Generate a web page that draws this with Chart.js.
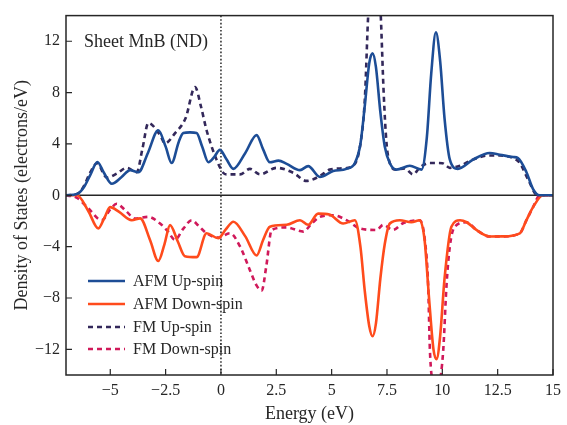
<!DOCTYPE html>
<html>
<head>
<meta charset="utf-8">
<script src="https://cdn.jsdelivr.net/npm/chart.js@4.4.1/dist/chart.umd.min.js"></script>
<style>
    body { margin: 0; background: #fff; }
    #wrap { width: 567px; height: 425px; }
</style>
</head>
<body>
<div id="wrap"><canvas id="dosChart" width="567" height="425"></canvas></div>
<script>
// Energy grid (eV) and DOS values
const afmUpE = [-7, -6.5, -6.2, -5.9, -5.58, -5.3, -4.93, -4.5, -4.1, -3.73, -3.3, -2.83, -2.5, -2.23, -1.9, -1.7, -1.4, -1.1, -0.85, -0.57, -0.3, -0.05, 0.25, 0.56, 1.1, 1.61, 1.9, 2.21, 2.6, 2.97, 3.57, 3.94, 4.47, 5.07, 5.67, 6.05, 6.3, 6.5, 6.7, 6.85, 7.0, 7.2, 7.4, 7.63, 7.93, 8.53, 9.06, 9.3, 9.5, 9.71, 9.9, 10.1, 10.34, 10.7, 11.39, 12.14, 12.6, 13.2, 13.42, 13.8, 14.1, 14.4, 15];
const afmUp = [0, 0.1, 0.6, 1.6, 2.6, 1.8, 0.9, 1.4, 1.96, 1.8, 3.3, 5.07, 3.8, 2.52, 4.2, 4.85, 4.9, 4.85, 3.8, 2.58, 3.0, 3.54, 2.8, 2.06, 3.3, 4.69, 3.6, 2.57, 2.7, 2.45, 1.96, 2.27, 1.43, 1.89, 2.06, 2.52, 4.0, 7.0, 10.3, 11.06, 10.0, 6.5, 3.8, 2.5, 2.0, 2.3, 2.0, 4.5, 9.5, 12.7, 10.5, 6.0, 2.78, 2.06, 2.78, 3.29, 3.16, 2.98, 2.9, 1.8, 0.48, 0, 0];

const afmDownE = [-7, -6.5, -6.0, -5.54, -5.25, -5.01, -4.6, -4.03, -3.65, -3.2, -2.83, -2.55, -2.3, -1.95, -1.63, -1.1, -0.65, -0.12, 0.2, 0.56, 1.1, 1.61, 1.9, 2.21, 2.97, 3.57, 3.94, 4.39, 4.9, 5.52, 6.05, 6.3, 6.5, 6.7, 6.85, 7.0, 7.2, 7.4, 7.63, 8.08, 8.6, 8.98, 9.2, 9.4, 9.6, 9.74, 9.9, 10.1, 10.41, 10.8, 11.1, 11.54, 12.14, 12.75, 13.5, 13.8, 14.1, 14.55, 15];
const afmDown = [0, 0, -1.2, -2.58, -1.7, -0.92, -1.3, -1.94, -1.8, -3.5, -5.12, -3.8, -2.32, -3.6, -4.74, -4.82, -2.96, -3.34, -2.7, -2.06, -3.2, -4.69, -3.5, -2.45, -2.3, -1.94, -2.3, -1.43, -1.5, -2.2, -1.94, -4.0, -7.5, -10.2, -10.98, -10.0, -6.5, -3.8, -2.2, -1.94, -2.1, -1.94, -3.5, -8.0, -12.0, -12.77, -11.0, -6.5, -2.45, -1.94, -2.1, -2.7, -3.21, -3.2, -2.96, -1.94, -0.92, 0, 0];

const fmUpE = [-7, -6.5, -6.2, -5.9, -5.6, -5.16, -4.7, -4.26, -3.8, -3.55, -3.28, -2.75, -2.53, -2.08, -1.6, -1.17, -0.9, -0.65, -0.2, 0.1, 0.26, 0.86, 1.31, 1.76, 2.51, 3.26, 3.87, 4.47, 4.92, 5.5, 5.97, 6.3, 6.5, 6.65, 6.8, 6.95, 7.1, 7.22, 7.35, 7.48, 7.63, 7.9, 8.3, 8.68, 9.0, 9.44, 10.0, 10.34, 10.8, 11.4, 12.1, 12.6, 13.2, 13.5, 13.87, 14.3, 15];
const fmUp = [0, 0.1, 0.7, 1.8, 2.5, 1.38, 1.7, 2.14, 1.8, 3.6, 5.63, 4.69, 4.05, 4.82, 6.0, 8.43, 6.9, 5.07, 2.78, 1.76, 1.63, 1.63, 2.06, 1.63, 2.14, 1.76, 1.12, 1.5, 2.0, 2.1, 2.3, 4.0, 7.5, 14.0, 18.0, 20.0, 18.0, 14.0, 8.0, 4.05, 2.5, 2.0, 2.1, 1.63, 2.2, 2.52, 2.5, 2.14, 2.3, 2.8, 3.1, 3.1, 2.9, 2.52, 1.25, 0, 0];

const fmDownE = [-7, -6.5, -6.0, -5.39, -5.0, -4.71, -4.3, -3.88, -3.28, -2.75, -2.4, -2.08, -1.7, -1.32, -1.0, -0.65, -0.12, 0.41, 0.86, 1.3, 1.6, 1.84, 2.05, 2.29, 2.97, 3.72, 4.1, 4.47, 5.07, 5.67, 6.28, 7.03, 7.33, 7.77, 8.2, 8.6, 8.98, 9.21, 9.36, 9.44, 9.6, 9.72, 9.85, 10.04, 10.19, 10.34, 10.56, 11.1, 11.54, 12.14, 12.75, 13.5, 13.8, 14.1, 14.4, 15];
const fmDown = [0, -0.2, -1.0, -1.94, -1.1, -0.66, -1.2, -1.81, -1.68, -2.2, -2.8, -3.47, -2.6, -1.94, -2.4, -2.96, -3.3, -2.96, -3.98, -5.8, -7.0, -7.42, -5.5, -2.7, -2.5, -2.83, -2.2, -1.68, -1.55, -1.94, -2.58, -2.7, -2.3, -2.7, -2.2, -2.0, -1.94, -3.47, -7.0, -12.1, -15, -16, -15, -12.1, -7.0, -3.98, -2.45, -2.1, -2.7, -3.21, -3.2, -2.96, -1.94, -0.92, 0, 0];

const xTicks = [-5, -2.5, 0, 2.5, 5, 7.5, 10, 12.5, 15];
const yTicks = [-12, -8, -4, 0, 4, 8, 12];

const seriesLabels = ['AFM Up-spin', 'AFM Down-spin', 'FM Up-spin', 'FM Down-spin'];
const seriesColors = ['#1d4d96', '#ff4b1c', '#33285a', '#d0195a'];

const FONT = 'Liberation Serif';
const INK = '#262626';

function toPoints(xs, ys) {
    return xs.map((x, i) => ({ x: x, y: ys[i] }));
}

function minusSign(v) {
    return String(v).replace('-', '\u2212');
}

// frame, zero lines, inward ticks, title and legend
const decorPlugin = {
    id: 'decor',
    beforeDatasetsDraw(chart) {
        const { ctx, chartArea: a, scales: { x, y } } = chart;
        ctx.save();
        ctx.strokeStyle = INK;
        ctx.lineWidth = 1.4;
        const y0 = y.getPixelForValue(0);
        ctx.beginPath();
        ctx.moveTo(a.left, y0);
        ctx.lineTo(a.right, y0);
        ctx.stroke();

        const x0 = x.getPixelForValue(0);
        ctx.setLineDash([1.6, 2]);
        ctx.lineWidth = 1.5;
        ctx.beginPath();
        ctx.moveTo(x0, a.top);
        ctx.lineTo(x0, a.bottom);
        ctx.stroke();
        ctx.restore();
    },
    afterDatasetsDraw(chart) {
        const { ctx, chartArea: a, scales: { x, y } } = chart;
        ctx.save();
        ctx.strokeStyle = INK;
        ctx.lineWidth = 1.5;
        ctx.strokeRect(a.left, a.top, a.right - a.left, a.bottom - a.top);

        ctx.lineWidth = 1.2;
        ctx.beginPath();
        yTicks.forEach(t => {
            const py = y.getPixelForValue(t);
            ctx.moveTo(a.left, py);
            ctx.lineTo(a.left + 6, py);
        });
        xTicks.forEach(t => {
            const px = x.getPixelForValue(t);
            ctx.moveTo(px, a.bottom);
            ctx.lineTo(px, a.bottom - 6);
        });
        ctx.stroke();

        // title inside the plot
        ctx.fillStyle = INK;
        ctx.font = '18px "' + FONT + '"';
        ctx.textBaseline = 'middle';
        ctx.textAlign = 'left';
        ctx.fillText('Sheet MnB (ND)', 84, 42);

        // legend
        const rows = [281, 304, 327, 349];
        ctx.font = '16px "' + FONT + '"';
        chart.data.datasets.forEach((ds, i) => {
            ctx.strokeStyle = ds.borderColor;
            ctx.lineWidth = ds.borderWidth;
            ctx.setLineDash(ds.borderDash || []);
            ctx.beginPath();
            ctx.moveTo(88, rows[i]);
            ctx.lineTo(125, rows[i]);
            ctx.stroke();
            ctx.setLineDash([]);
            ctx.fillStyle = INK;
            ctx.fillText(ds.label, 133, rows[i] + 1);
        });
        ctx.restore();
    }
};

function buildChart() {
    const sets = [
        [afmUpE, afmUp, []],
        [afmDownE, afmDown, []],
        [fmUpE, fmUp, [5, 4]],
        [fmDownE, fmDown, [5, 4]]
    ];

    const datasets = sets.map((s, i) => ({
        label: seriesLabels[i],
        data: toPoints(s[0], s[1]),
        borderColor: seriesColors[i],
        borderWidth: 2.6,
        borderDash: s[2],
        pointRadius: 0,
        fill: false,
        cubicInterpolationMode: 'monotone'
    }));

    const ctx = document.getElementById('dosChart').getContext('2d');
    new Chart(ctx, {
        type: 'line',
        data: { datasets: datasets },
        plugins: [decorPlugin],
        options: {
            responsive: false,
            animation: false,
            layout: { padding: { top: 10, right: 13, left: 0, bottom: 0 } },
            plugins: {
                legend: { display: false },
                tooltip: { enabled: false }
            },
            scales: {
                x: {
                    type: 'linear',
                    min: -7,
                    max: 15,
                    afterBuildTicks: scale => { scale.ticks = xTicks.map(v => ({ value: v })); },
                    afterFit: scale => { scale.height = 50; },
                    grid: { display: false, drawTicks: false },
                    border: { display: false },
                    ticks: {
                        padding: 6,
                        maxRotation: 0,
                        color: INK,
                        font: { family: FONT, size: 16 },
                        callback: v => minusSign(v)
                    },
                    title: {
                        display: true,
                        text: 'Energy (eV)',
                        color: INK,
                        font: { family: FONT, size: 18 },
                        padding: { top: 2, bottom: 0 }
                    }
                },
                y: {
                    type: 'linear',
                    min: -14,
                    max: 14,
                    afterBuildTicks: scale => { scale.ticks = yTicks.map(v => ({ value: v })); },
                    afterFit: scale => { scale.width = 66; },
                    grid: { display: false, drawTicks: false },
                    border: { display: false },
                    ticks: {
                        padding: 6,
                        color: INK,
                        font: { family: FONT, size: 16 },
                        callback: v => minusSign(v)
                    },
                    title: {
                        display: true,
                        text: 'Density of States (electrons/eV)',
                        color: INK,
                        font: { family: FONT, size: 18 },
                        padding: { top: 11, bottom: 0 }
                    }
                }
            }
        }
    });
}

document.addEventListener('DOMContentLoaded', buildChart);
</script>
</body>
</html>
